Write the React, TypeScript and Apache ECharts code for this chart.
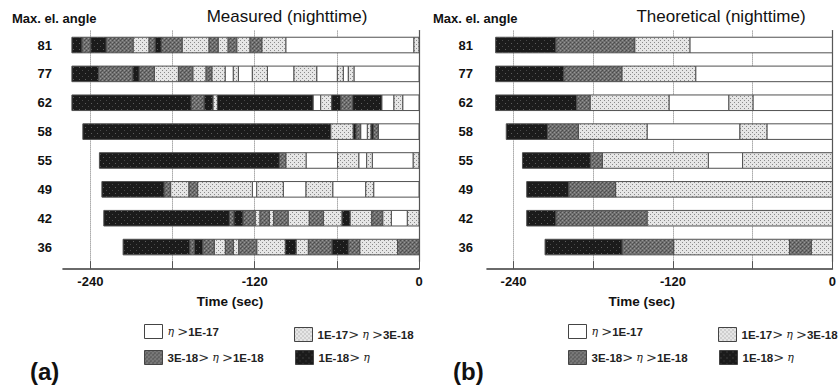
import React, { useEffect, useRef } from "react";
import * as echarts from "echarts";

// ---------- data ----------
const angles = ["81", "77", "62", "58", "55", "49", "42", "36"];
// level codes: 0 = η>1E-17 (white), 1 = light, 2 = medium, 3 = dark
const levelNames = ["η >1E-17", "1E-17> η >3E-18", "3E-18> η >1E-18", "1E-18> η"];
const gridTicks = [-240, -180, -120, -60, 0];
const tickLabels = [-240, -120, 0];

// each row: [segment start time (s), level]; every bar ends at 0 s
const measured81 = [[-253.5, 3], [-246.2, 2], [-239.7, 3], [-228.5, 2], [-208.8, 1], [-197.1, 2], [-192.7, 3], [-188.3, 2], [-173, 1], [-153.3, 2], [-146.7, 1], [-139.4, 2], [-133.1, 1], [-123.4, 2], [-114.8, 1], [-97.3, 0], [-3.7, 1]];
const measured77 = [[-253.5, 3], [-234.1, 2], [-209, 3], [-204.4, 2], [-193.2, 1], [-175.7, 2], [-165.2, 1], [-155.5, 2], [-151.3, 1], [-141.6, 0], [-135.6, 1], [-131.9, 0], [-121.7, 1], [-110.7, 0], [-91.3, 1], [-74.7, 0], [-59.6, 1], [-55.3, 0], [-51.6, 1], [-47.5, 0]];
const measured62 = [[-253.5, 3], [-166.4, 2], [-156.9, 3], [-150.5, 1], [-147.2, 3], [-77.4, 0], [-71.8, 1], [-63.7, 3], [-57.2, 2], [-48.4, 3], [-27.2, 0], [-18.3, 1], [-11.9, 0]];
const measured58 = [[-245.5, 3], [-64.5, 1], [-48, 3], [-46, 2], [-42.6, 0], [-37.7, 1], [-35, 3], [-33.4, 2], [-29.7, 0]];
const measured55 = [[-233.4, 3], [-102, 2], [-97.3, 1], [-82.5, 0], [-59.5, 1], [-44, 0], [-38.2, 1], [-34.1, 0], [-4.2, 1]];
const measured49 = [[-231.6, 3], [-186.2, 2], [-181.4, 1], [-168, 2], [-161.7, 1], [-121.7, 0], [-118.5, 1], [-99.1, 0], [-82.5, 1], [-63, 0], [-38.9, 1], [-33.1, 0]];
const measured42 = [[-230.2, 3], [-138.5, 2], [-135.1, 3], [-128.6, 2], [-119.7, 1], [-116.1, 2], [-109.3, 1], [-106.1, 2], [-95.6, 1], [-80.1, 2], [-69.9, 1], [-56.2, 3], [-50.4, 1], [-34.5, 2], [-26.5, 1], [-20.2, 0], [-8.5, 1]];
const measured36 = [[-216.1, 3], [-167.4, 2], [-164, 3], [-158, 2], [-149.5, 1], [-141.4, 2], [-135.6, 1], [-131.6, 2], [-118.5, 1], [-97.6, 3], [-89.8, 1], [-80.8, 2], [-63.5, 3], [-51.6, 2], [-43.3, 1], [-15.7, 2]];

const theoretical81 = [[-253.5, 3], [-208.2, 2], [-148.8, 1], [-107.3, 0]];
const theoretical77 = [[-253.5, 3], [-202.3, 2], [-158.5, 1], [-102.9, 0]];
const theoretical62 = [[-253.5, 3], [-192.6, 2], [-182.4, 1], [-123, 0], [-77.9, 1], [-59.8, 0]];
const theoretical58 = [[-245.5, 3], [-214.5, 2], [-191.2, 1], [-139.5, 0], [-69.6, 1], [-49.3, 0]];
const theoretical55 = [[-233.3, 3], [-182.2, 2], [-173.1, 1], [-93.4, 0], [-67.6, 1]];
const theoretical49 = [[-230.1, 3], [-198.5, 2], [-163.2, 1]];
const theoretical42 = [[-230.1, 3], [-208.2, 2], [-139.5, 1]];
const theoretical36 = [[-216.3, 3], [-158.3, 2], [-119.5, 1], [-32.3, 2], [-15.9, 1]];

const measuredRows = [measured81, measured77, measured62, measured58, measured55, measured49, measured42, measured36];
const theoreticalRows = [theoretical81, theoretical77, theoretical62, theoretical58, theoretical55, theoretical49, theoretical42, theoretical36];

// ---------- helpers ----------
const FONT = '"Liberation Sans", Arial, sans-serif';

function makeTile(size: number, bg: string, dots: [number, number, string][]) {
  const c = document.createElement("canvas");
  c.width = size;
  c.height = size;
  const ctx = c.getContext("2d")!;
  ctx.fillStyle = bg;
  ctx.fillRect(0, 0, size, size);
  dots.forEach(([x, y, col]) => {
    ctx.fillStyle = col;
    ctx.fillRect(x, y, 1, 1);
  });
  return { image: c.toDataURL(), repeat: "repeat", imageWidth: size, imageHeight: size };
}

function segmentsOfLevel(rows: number[][][], level: number) {
  const out: number[][] = [];
  rows.forEach((segs, rowIdx) => {
    segs.forEach((seg, k) => {
      if (seg[1] === level) {
        const end = k + 1 < segs.length ? segs[k + 1][0] : 0;
        out.push([rowIdx, seg[0], end]);
      }
    });
  });
  return out;
}

function txt(text: string, x: number, y: number, size: number, weight: string, align: string) {
  return {
    type: "text",
    x,
    y,
    silent: true,
    style: {
      text,
      fill: "#111",
      font: `${weight} ${size}px ${FONT}`,
      fontSize: size,
      fontWeight: weight,
      fontFamily: FONT,
      align,
      textAlign: align,
      verticalAlign: "top",
      textVerticalAlign: "top",
    },
  };
}

export default function App() {
  const ref = useRef<HTMLDivElement>(null);

  useEffect(() => {
    if (!ref.current) return;
    const chart = echarts.init(ref.current, undefined, { renderer: "svg" });

    const fills: any[] = [
      "#ffffff",
      makeTile(4, "#e6e6e6", [[0, 0, "#8a8a8a"], [2, 2, "#8a8a8a"]]),
      makeTile(4, "#6f6f6f", [[0, 0, "#4a4a4a"], [2, 2, "#4a4a4a"], [2, 0, "#959595"], [0, 2, "#959595"], [1, 3, "#555555"]]),
      makeTile(6, "#1b1b1b", [[1, 1, "#5e5e5e"], [4, 4, "#4a4a4a"]]),
    ];

    const panels = [
      { rows: measuredRows, left: 63, labelMargin: 11, namePad: 22, title: "Measured (nighttime)", titleX: 287, tag: "(a)" },
      { rows: theoreticalRows, left: 487, labelMargin: 14, namePad: 36, title: "Theoretical (nighttime)", titleX: 721, tag: "(b)" },
    ];

    const grids = panels.map((p) => ({ left: p.left, top: 30.6, width: 356, height: 230.9 }));

    const xAxes = panels.map((p, i) => ({
      type: "value",
      gridIndex: i,
      min: -260,
      max: 0,
      offset: 7.6,
      name: "Time (sec)",
      nameLocation: "middle",
      nameGap: 25,
      nameTextStyle: { fontFamily: FONT, fontWeight: "bold", fontSize: 13.5, color: "#111", padding: [0, p.namePad, 0, 0] },
      axisLine: { show: true, lineStyle: { color: "#3a3a3a", width: 1.6 } },
      axisTick: { show: true, inside: true, length: 8, customValues: gridTicks, lineStyle: { color: "#555", width: 1 } },
      axisLabel: { customValues: tickLabels, margin: 6, fontFamily: FONT, fontWeight: "bold", fontSize: 13, color: "#111" },
      splitLine: { show: true, lineStyle: { color: "#777", width: 1, type: "dotted" } },
    }));

    const yAxes: any[] = [];
    panels.forEach((p, i) => {
      yAxes.push({
        type: "category",
        gridIndex: i,
        inverse: true,
        data: angles,
        axisLine: { show: false },
        axisTick: { show: false },
        splitLine: { show: false },
        axisLabel: { margin: p.labelMargin, fontFamily: FONT, fontWeight: "bold", fontSize: 13, color: "#111" },
      });
      yAxes.push({
        type: "category",
        gridIndex: i,
        inverse: true,
        position: "right",
        data: angles,
        axisLine: { show: true, lineStyle: { color: "#555", width: 1.2 } },
        axisTick: { show: false },
        axisLabel: { show: false },
        splitLine: { show: false },
      });
    });

    const series: any[] = [];
    panels.forEach((p, pi) => {
      levelNames.forEach((name, lvl) => {
        series.push({
          type: "custom",
          name,
          xAxisIndex: pi,
          yAxisIndex: pi * 2,
          z: 3,
          encode: { x: [1, 2], y: 0 },
          itemStyle: { color: fills[lvl], borderColor: "#444", borderWidth: 1 },
          data: segmentsOfLevel(p.rows, lvl),
          renderItem: (params: any, api: any) => {
            const row = api.value(0);
            const a = api.coord([api.value(1), row]);
            const b = api.coord([api.value(2), row]);
            const h = api.size([0, 1])[1] * 0.54;
            return {
              type: "rect",
              shape: { x: a[0], y: a[1] - h / 2, width: b[0] - a[0], height: h },
              style: { fill: fills[lvl], stroke: "#505050", lineWidth: 1 },
            };
          },
        });
      });
    });

    const legendPos = [[144, 324], [294, 327], [144, 350], [295, 350]];
    const legends: any[] = [];
    panels.forEach((p, pi) => {
      levelNames.forEach((name, lvl) => {
        legends.push({
          data: [{ name, icon: "rect", itemStyle: { color: fills[lvl], borderColor: "#444", borderWidth: 1 } }],
          left: legendPos[lvl][0] + pi * 424,
          top: legendPos[lvl][1],
          padding: 0,
          itemGap: 0,
          itemWidth: 18,
          itemHeight: 14,
          selectedMode: false,
          formatter: (n: string) => n.replace(/>/g, "{g|>}").replace(/η/g, "{e|η}"),
          textStyle: {
            fontFamily: FONT,
            fontWeight: "bold",
            fontSize: 11.5,
            color: "#222",
            rich: {
              e: { fontFamily: '"DejaVu Serif", serif', fontStyle: "italic", fontWeight: "normal", fontSize: 11, color: "#222" },
              g: { fontFamily: '"DejaVu Serif", serif', fontWeight: "normal", fontSize: 13, color: "#333" },
            },
          },
        });
      });
    });

    const graphics: any[] = [];
    panels.forEach((p, pi) => {
      graphics.push(txt("Max. el. angle", pi === 0 ? 12 : 433, 12, 13, "bold", "left"));
      graphics.push(txt(p.title, p.titleX, 8, 17, "normal", "center"));
      graphics.push(txt(p.tag, pi === 0 ? 30 : 453, 359, 24, "bold", "left"));
    });

    chart.setOption({
      animation: false,
      backgroundColor: "#ffffff",
      grid: grids,
      xAxis: xAxes,
      yAxis: yAxes,
      series,
      legend: legends,
      graphic: graphics,
    });

    return () => chart.dispose();
  }, []);

  return (
    <div
      ref={ref}
      style={{ position: "fixed", left: 0, top: 0, width: 839, height: 390, background: "#fff" }}
    />
  );
}
